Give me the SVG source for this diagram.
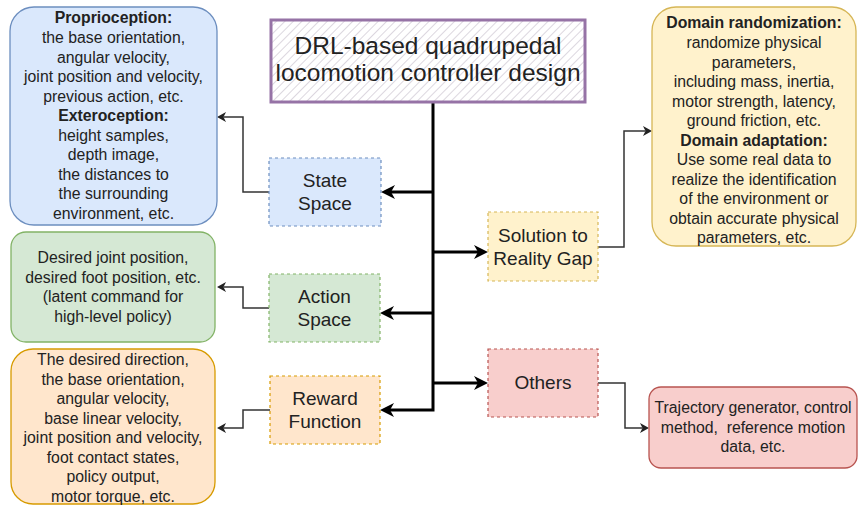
<svg xmlns="http://www.w3.org/2000/svg" width="858" height="506" viewBox="0 0 858 506">
  <defs>
    <pattern id="hatch" patternUnits="userSpaceOnUse" width="6" height="6" patternTransform="rotate(45)">
      <line x1="0" y1="0" x2="0" y2="6" stroke="#c4bcc9" stroke-width="1.2"/>
    </pattern>
    <marker id="arrowBold" markerUnits="userSpaceOnUse" markerWidth="14" markerHeight="14" refX="4" refY="7" orient="auto">
      <path d="M14,7 L0,0 L4,7 L0,14 Z" fill="#000"/>
    </marker>
    <marker id="arrowThin" markerUnits="userSpaceOnUse" markerWidth="9" markerHeight="10" refX="2.5" refY="5" orient="auto">
      <path d="M9,5 L0,0 L2.5,5 L0,10 Z" fill="#222"/>
    </marker>
    <style>
      text { font-family: "Liberation Sans", Arial, Helvetica, sans-serif; fill: #222; text-anchor: middle; }
      .title { font-size: 24.5px; }
      .node { font-size: 19px; }
      .info { font-size: 15.8px; }
      .b { font-weight: bold; }
      .dash { stroke-width: 1.2; stroke-dasharray: 3 3; }
      .card { stroke-width: 1.3; }
      .thick { fill: none; stroke: #000; stroke-width: 3; stroke-linejoin: miter; marker-end: url(#arrowBold); }
      .thin { fill: none; stroke: #333; stroke-width: 1.5; marker-end: url(#arrowThin); }
    </style>
  </defs>

  <rect width="858" height="506" fill="#fff"/>

  <!-- connectors -->
  <g id="connectors">
    <path class="thick" d="M433,102 V410 H390"/>
    <path class="thick" d="M433,192 H391"/>
    <path class="thick" d="M433,313 H390"/>
    <path class="thick" d="M433,252 H478"/>
    <path class="thick" d="M433,383 H478"/>
    <path class="thin" d="M269,192 H243 V117 H223.5"/>
    <path class="thin" d="M269,308 H243 V287 H223.5"/>
    <path class="thin" d="M270,410 H243 V428 H223.5"/>
    <path class="thin" d="M598,247 H624 V131 H645.5"/>
    <path class="thin" d="M598,383 H625 V428 H642.5"/>
  </g>

  <!-- root -->
  <g id="title">
    <rect x="271" y="20" width="314" height="82" fill="#fff"/>
    <rect x="271" y="20" width="314" height="82" fill="url(#hatch)" stroke="#9673a6" stroke-width="3"/>
    <text class="title" x="428" y="54">DRL-based quadrupedal</text>
    <text class="title" x="428" y="81">locomotion controller design</text>
  </g>

  <!-- categories -->
  <g id="state-space">
    <rect class="dash" x="269" y="158" width="112" height="68" fill="#dae8fc" stroke="#6c8ebf"/>
    <text class="node" x="325" y="187">State</text>
    <text class="node" x="325" y="210">Space</text>
  </g>
  <g id="action-space">
    <rect class="dash" x="269" y="274" width="111" height="68" fill="#d5e8d4" stroke="#82b366"/>
    <text class="node" x="324.5" y="303">Action</text>
    <text class="node" x="324.5" y="326">Space</text>
  </g>
  <g id="reward-function">
    <rect class="dash" x="270" y="376" width="110" height="68" fill="#ffe6cc" stroke="#d79b00"/>
    <text class="node" x="325" y="405">Reward</text>
    <text class="node" x="325" y="428">Function</text>
  </g>
  <g id="reality-gap">
    <rect class="dash" x="488" y="212" width="110" height="69" fill="#fff2cc" stroke="#d6b656"/>
    <text class="node" x="543" y="242">Solution to</text>
    <text class="node" x="543" y="265">Reality Gap</text>
  </g>
  <g id="others">
    <rect class="dash" x="488" y="349" width="110" height="68" fill="#f8cecc" stroke="#b85450"/>
    <text class="node" x="543" y="389">Others</text>
  </g>

  <!-- details -->
  <g id="state-details">
    <rect class="card" x="10" y="7" width="207" height="218" rx="24" fill="#dae8fc" stroke="#6c8ebf"/>
    <text class="info b" x="113.5" y="23">Proprioception:</text>
    <text class="info" x="113.5" y="43">the base orientation,</text>
    <text class="info" x="113.5" y="62.5">angular velocity,</text>
    <text class="info" x="113.5" y="82">joint position and velocity,</text>
    <text class="info" x="113.5" y="101.5">previous action, etc.</text>
    <text class="info b" x="113.5" y="121">Exteroception:</text>
    <text class="info" x="113.5" y="140.5">height samples,</text>
    <text class="info" x="113.5" y="160">depth image,</text>
    <text class="info" x="113.5" y="179.5">the distances to</text>
    <text class="info" x="113.5" y="199">the surrounding</text>
    <text class="info" x="113.5" y="218.5">environment, etc.</text>
  </g>
  <g id="action-details">
    <rect class="card" x="11" y="232" width="204" height="110" rx="15" fill="#d5e8d4" stroke="#82b366"/>
    <text class="info" x="113" y="263">Desired joint position,</text>
    <text class="info" x="113" y="282.5">desired foot position, etc.</text>
    <text class="info" x="113" y="302">(latent command for</text>
    <text class="info" x="113" y="321.5">high-level policy)</text>
  </g>
  <g id="reward-details">
    <rect class="card" x="11" y="349" width="204" height="155" rx="22" fill="#ffe6cc" stroke="#d79b00"/>
    <text class="info" x="113" y="365">The desired direction,</text>
    <text class="info" x="113" y="384.5">the base orientation,</text>
    <text class="info" x="113" y="404">angular velocity,</text>
    <text class="info" x="113" y="423.5">base linear velocity,</text>
    <text class="info" x="113" y="443">joint position and velocity,</text>
    <text class="info" x="113" y="462.5">foot contact states,</text>
    <text class="info" x="113" y="482">policy output,</text>
    <text class="info" x="113" y="501.5">motor torque, etc.</text>
  </g>
  <g id="gap-details">
    <rect class="card" x="652" y="7" width="204" height="239" rx="24" fill="#fff2cc" stroke="#d6b656"/>
    <text class="info b" x="754" y="27.5">Domain randomization:</text>
    <text class="info" x="754" y="48">randomize physical</text>
    <text class="info" x="754" y="67.5">parameters,</text>
    <text class="info" x="754" y="87">including mass, inertia,</text>
    <text class="info" x="754" y="106.5">motor strength, latency,</text>
    <text class="info" x="754" y="126">ground friction, etc.</text>
    <text class="info b" x="754" y="145.5">Domain adaptation:</text>
    <text class="info" x="754" y="165">Use some real data to</text>
    <text class="info" x="754" y="184.5">realize the identification</text>
    <text class="info" x="754" y="204">of the environment or</text>
    <text class="info" x="754" y="223.5">obtain accurate physical</text>
    <text class="info" x="754" y="243">parameters, etc.</text>
  </g>
  <g id="others-details">
    <rect class="card" x="649" y="387" width="208" height="81" rx="12" fill="#f8cecc" stroke="#b85450"/>
    <text class="info" x="753" y="413">Trajectory generator, control</text>
    <text class="info" x="753" y="432.5" xml:space="preserve">method,  reference motion</text>
    <text class="info" x="753" y="452">data, etc.</text>
  </g>
</svg>
